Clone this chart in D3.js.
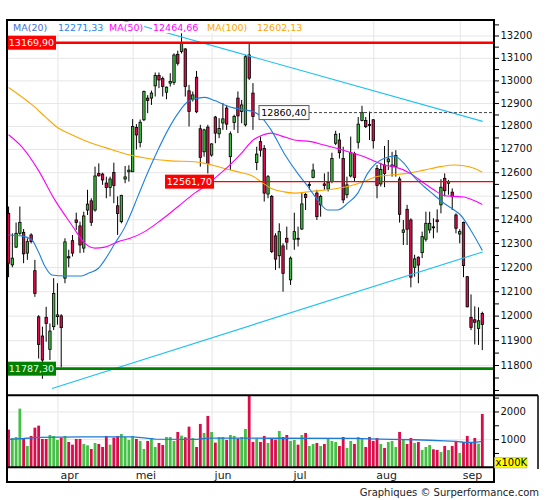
<!DOCTYPE html>
<html><head><meta charset="utf-8">
<script src="https://cdn.jsdelivr.net/npm/d3@7"></script>
<style>
body{margin:0;background:#fff;}
svg{display:block;font-family:"DejaVu Sans",Verdana,sans-serif;}
</style>
</head><body>
<svg id="chart" width="545" height="500"></svg>
<script>
// ---------- data ----------
const openP  = [12427,12211,12285,12343,12347,12260,12336,12187,11997,11919,11995,11865,11957,11998,12001,12156,12245,12312,12399,12374,12281,12441,12480,12441,12597,12594,12556,12537,12601,12459,12392,12573,12604,12604,12795,12730,12829,12924,12924,12978,13024,13010,12950,12990,12993,13118,13131,13142,12956,12919,13016,12790,12690,12797,12676,12841,12768,12815,12880,12669,12817,12924,12865,12807,13115,12946,12644,12734,12704,12509,12499,12332,12249,12290,12322,12149,12318,12322,12361,12507,12545,12580,12513,12463,12552,12530,12562,12727,12741,12661,12506,12586,12683,12731,12826,12826,12808,12829,12618,12552,12633,12647,12626,12626,12573,12347,12444,12399,12201,12243,12262,12318,12357,12370,12399,12463,12576,12555,12517,12420,12340,12389,12162,11995,11985,11950,12011];
const highP  = [12456,12343,12388,12456,12361,12322,12343,12232,12004,11957,12038,11970,12156,12135,12008,12322,12274,12336,12430,12392,12434,12527,12491,12626,12640,12600,12583,12583,12643,12499,12506,12629,12632,12832,12810,12830,12957,12937,12957,13037,13037,13019,12975,13034,13122,13134,13212,13145,12982,12953,13044,12807,12790,12807,12727,12846,12836,12902,12894,12778,12851,12953,12916,13115,13167,12990,12712,12756,12719,12590,12505,12343,12385,12301,12371,12246,12430,12371,12513,12513,12562,12639,12527,12506,12597,12604,12686,12781,12771,12712,12583,12756,12690,12841,12890,12841,12865,12832,12633,12643,12715,12741,12690,12697,12583,12399,12463,12406,12253,12246,12350,12434,12434,12406,12444,12572,12597,12569,12533,12427,12360,12392,12165,12089,12040,12036,12018];
const lowP   = [12160,12201,12281,12336,12218,12232,12301,12079,11828,11747,11896,11822,11943,11965,11792,12135,12201,12246,12357,12260,12262,12420,12374,12434,12583,12548,12491,12499,12470,12336,12385,12555,12562,12604,12700,12709,12823,12858,12894,12931,12968,12931,12919,12975,12982,13068,13122,12931,12800,12909,12858,12626,12669,12597,12669,12727,12749,12785,12785,12611,12785,12771,12814,12800,13004,12785,12611,12669,12477,12491,12260,12190,12197,12100,12274,12128,12274,12288,12357,12441,12527,12576,12399,12413,12527,12520,12555,12719,12661,12470,12491,12580,12562,12704,12822,12793,12741,12704,12491,12541,12538,12611,12583,12583,12388,12294,12294,12118,12162,12135,12239,12308,12343,12322,12346,12427,12499,12506,12441,12343,12301,12160,12036,11943,11885,11883,11862];
const closeP = [12218,12239,12343,12389,12257,12308,12308,12093,11885,11822,11970,11939,12093,12005,11953,12307,12240,12260,12388,12294,12416,12466,12389,12586,12587,12569,12537,12573,12545,12426,12503,12582,12611,12800,12763,12818,12953,12913,12946,13024,13004,12975,12972,12997,13115,13078,13169.9,12975,12865,12938,12864,12666,12785,12640,12724,12771,12791,12833,12810,12768,12843,12846,12894,13107,13012,12843,12680,12697,12513,12583,12267,12235,12350,12176,12306,12239,12350,12318,12467,12494,12550,12611,12413,12499,12545,12558,12661,12766,12686,12484,12548,12686,12580,12810,12860.4,12799,12804,12738,12545,12614,12597,12659,12633,12674,12423,12357,12360,12160,12236,12210,12329,12385,12385,12366,12392,12538,12523,12562,12499,12364,12350,12208,12038,11954,11975,11981,11966];
const volume = [1362,1060,1096,2120,1036,771,1133,1434,1506,1024,1024,1169,1133,988,1072,1133,916,819,1024,1024,843,795,663,880,843,735,1133,819,1072,1133,1205,1096,988,1133,1024,952,663,952,1060,735,880,807,1096,1096,952,1277,1145,1084,1470,1060,735,1567,1241,1856,1277,892,1096,1096,988,1169,1133,1036,1096,1386,2750,916,1036,916,1133,880,1036,1000,1313,1096,1169,952,988,819,1169,1241,771,843,880,771,843,1036,952,916,771,1096,699,952,843,1096,1024,735,1096,952,1060,843,699,916,952,735,1277,1000,843,1060,880,916,627,735,807,651,627,554,771,627,771,952,518,916,1133,916,1060,856,1928];

// moving averages: [candle index, value]
const ma20 = [[0,12336],[3.5,12332],[6.2,12315],[7.9,12267],[9.7,12204],[11.5,12169],[15,12165],[19.4,12165],[21.2,12176],[23.9,12197],[25.6,12232],[28.3,12301],[31,12371],[31.8,12399],[34.4,12499],[37.1,12604],[39.7,12697],[42.4,12785],[45.1,12858],[47.7,12909],[50.4,12924],[52.2,12927],[54.8,12913],[57.5,12894],[60.1,12880],[62.8,12872],[65,12865],[67.1,12843],[69.8,12785],[73.3,12683],[76.9,12597],[79.6,12541],[82.2,12484],[84.9,12441],[87.5,12441],[90.2,12470],[92.9,12513],[95.5,12597],[97.7,12640],[99.8,12661],[102.5,12672],[105.2,12640],[107.8,12583],[110.5,12541],[113.1,12506],[115.8,12470],[118.5,12441],[120.2,12420],[122.9,12357],[126,12271.33]];
const ma50 = [[0,12764],[3.5,12712],[7.9,12611],[12.3,12484],[16.8,12378],[20.3,12301],[23,12281],[25.6,12285],[29.2,12308],[32.3,12322],[36.2,12350],[40.6,12399],[45.1,12456],[49.5,12513],[52.2,12541],[54.8,12576],[58.4,12626],[61.9,12683],[65,12740],[67.1,12759],[69.8,12771],[72.5,12759],[76,12741],[80.4,12734],[84,12719],[87.5,12704],[91.1,12686],[94.6,12669],[97.7,12647],[99.8,12633],[102.5,12626],[106.9,12597],[110.5,12555],[113.1,12527],[115.8,12503],[118.5,12499],[121.1,12496],[123.8,12481],[126,12464.66]];
const ma100 = [[0,12971],[6.2,12895],[9.7,12843],[13.2,12793],[16.8,12764],[22.1,12727],[25.6,12709],[32.3,12676],[37.1,12661],[43.2,12651],[49.5,12647],[52.2,12640],[54.8,12630],[58.4,12614],[61.9,12600],[65,12585],[67.1,12562],[69.8,12534],[73.3,12518],[76,12513],[80.4,12520],[84.9,12527],[90.2,12541],[94.6,12562],[97.7,12583],[101.6,12590],[106,12597],[110.5,12611],[114.9,12626],[118.5,12633],[121.1,12630],[123.8,12619],[126,12602.13]];
const volMA = [[0,1012],[4,1040],[8,1085],[20,1096],[33,1096],[36,1060],[39,1015],[50,1012],[53,1055],[70,1050],[92,1045],[96,1025],[102,1010],[108,995],[112,978],[116,955],[119,935],[121,905],[124,904],[126,940]];

const monthLabels = ["apr","mei","jun","jul","aug","sep"];
const monthStart  = [13,33,54,75,97,120];
const priceTicks  = d3.range(11800, 13201, 100);
const volTicks    = [1000, 2000];
const legendNames  = ["MA(20)","MA(50)","MA(100)"];
const legendValues = [12271.33, 12464.66, 12602.13];
const levelValues  = [13169.90, 12561.70, 12860.40, 11787.30];
// trendlines: [index, price] endpoints
const trendUpper = [[29.9,13272],[126.1,12822]];
const trendLower = [[11.55,11708],[126.1,12265]];

// ---------- layout ----------
const L=7, R=494, T=20, mainB=395.3, volB=467.3, B=482;
const svg = d3.select("#chart");
const x  = d3.scaleLinear().domain([0,126]).range([8.57,482.3]);
const y  = d3.scaleLog().domain([11681,13272]).range([mainB,T]);
const vy = d3.scaleLinear().domain([0,2602]).range([volB,mainB]);
const fmt = v => v.toFixed(2).replace(".", ",");
const GREEN="#3dba3d", RED="#dc0c4a";

const defs = svg.append("defs");
defs.append("clipPath").attr("id","cm").append("rect").attr("x",L).attr("y",T).attr("width",R-L).attr("height",mainB-T);
defs.append("clipPath").attr("id","cv").append("rect").attr("x",L).attr("y",mainB).attr("width",R-L).attr("height",volB-mainB);

// grid
const grid = svg.append("g").attr("stroke","#e6e6e6").attr("stroke-width",1);
grid.selectAll(".hg").data(priceTicks).join("line")
  .attr("x1",L).attr("x2",R).attr("y1",d=>y(d)).attr("y2",d=>y(d));
grid.selectAll(".vg").data(volTicks).join("line")
  .attr("x1",L).attr("x2",R).attr("y1",d=>vy(d)).attr("y2",d=>vy(d));
grid.selectAll(".mg").data(monthStart).join("line")
  .attr("x1",d=>x(d)+0.5).attr("x2",d=>x(d)+0.5).attr("y1",T).attr("y2",volB);

// candles
const idx = d3.range(openP.length);
const cg = svg.append("g").attr("clip-path","url(#cm)");
cg.selectAll(".wick").data(idx).join("line")
  .attr("x1",i=>x(i)).attr("x2",i=>x(i))
  .attr("y1",i=>y(highP[i])).attr("y2",i=>y(lowP[i]))
  .attr("stroke","#000").attr("stroke-width",1);
cg.selectAll(".body").data(idx).join("rect")
  .attr("x",i=>x(i)-1.2).attr("width",2.4)
  .attr("y",i=>y(Math.max(openP[i],closeP[i])))
  .attr("height",i=>Math.max(0.8, y(Math.min(openP[i],closeP[i]))-y(Math.max(openP[i],closeP[i]))))
  .attr("fill",i=>closeP[i]>=openP[i]?GREEN:RED)
  .attr("stroke","#000").attr("stroke-width",0.8);

// moving averages
const lineGen = d3.line().x(d=>x(d[0])).y(d=>y(d[1])).curve(d3.curveMonotoneX);
const mg = svg.append("g").attr("clip-path","url(#cm)").attr("fill","none");
mg.append("path").attr("d",lineGen(ma100)).attr("stroke","#ffa500").attr("stroke-width",1.1);
mg.append("path").attr("d",lineGen(ma50)).attr("stroke","#ff00ff").attr("stroke-width",1.1);
mg.append("path").attr("d",lineGen(ma20)).attr("stroke","#1e80dc").attr("stroke-width",1.1);

// trendlines
const tl = d3.line().x(d=>x(d[0])).y(d=>y(d[1]));
mg.append("path").attr("d",tl(trendUpper)).attr("stroke","#1ec0f5").attr("stroke-width",1.1);
mg.append("path").attr("d",tl(trendLower)).attr("stroke","#1ec0f5").attr("stroke-width",1.1);

// level lines
const lg = svg.append("g");
const levelSpec = [
  {v:levelValues[0], bx:L,   bw:49, fill:"#ff0000", tc:"#fff", lc:"#ff0000", lw:2.6, dash:null, stroke:null},
  {v:levelValues[1], bx:165, bw:49, fill:"#ff0000", tc:"#fff", lc:"#ff0000", lw:1.3, dash:null, stroke:null},
  {v:levelValues[2], bx:259, bw:50, fill:"#fff",    tc:"#000", lc:"#444",    lw:1,   dash:"3,2", stroke:"#555"},
  {v:levelValues[3], bx:L,   bw:49, fill:"#008000", tc:"#f0fff0", lc:"#008000", lw:2.6, dash:null, stroke:null}
];
levelSpec.forEach(s=>{
  const yy = y(s.v);
  lg.append("line").attr("x1",s.bx+s.bw).attr("x2",R).attr("y1",yy).attr("y2",yy)
    .attr("stroke",s.lc).attr("stroke-width",s.lw).attr("stroke-dasharray",s.dash);
  lg.append("rect").attr("x",s.bx).attr("y",yy-7).attr("width",s.bw).attr("height",14)
    .attr("fill",s.fill).attr("stroke",s.stroke).attr("stroke-width",s.stroke?1:0);
  lg.append("text").attr("x",s.bx+s.bw/2).attr("y",yy).attr("dy","0.36em")
    .attr("text-anchor","middle").attr("font-size",9.5).attr("fill",s.tc).text(fmt(s.v));
});

// legend
const legColors = [["#3f6fd6","#1e88f0"],["#ff00ff","#ff00ff"],["#ffa500","#ffa500"]];
const legX = [[13,58],[109,153],[207,257]];
const leg = svg.append("g").attr("font-size",9.5);
legendNames.forEach((n,k)=>{
  [[n,legX[k][0],legColors[k][0]],[fmt(legendValues[k]),legX[k][1],legColors[k][1]]].forEach(([t,xx,c])=>{
    const tx = leg.append("text").attr("x",xx).attr("y",31).attr("fill",c).text(t);
    const bb = tx.node().getBBox();
    leg.insert("rect","text").attr("x",bb.x-1).attr("y",bb.y).attr("width",bb.width+2).attr("height",bb.height).attr("fill","#fff");
  });
});

// volume
const vg = svg.append("g").attr("clip-path","url(#cv)");
vg.selectAll("rect").data(idx).join("rect")
  .attr("x",i=>x(i)-1.4).attr("width",2.8)
  .attr("y",i=>vy(volume[i])).attr("height",i=>volB-vy(volume[i]))
  .attr("fill",i=>closeP[i]>=openP[i]?"#44c044":RED);
vg.append("path").attr("fill","none").attr("stroke","#1e7ad4").attr("stroke-width",1.3)
  .attr("d",d3.line().x(d=>x(d[0])).y(d=>vy(d[1]))(volMA));

// frames
const fr = svg.append("g").attr("stroke","#000").attr("fill","none");
fr.append("rect").attr("x",L).attr("y",T).attr("width",R-L).attr("height",B-T).attr("stroke-width",2);
fr.append("line").attr("x1",L).attr("x2",538).attr("y1",mainB).attr("y2",mainB).attr("stroke-width",2);
fr.append("line").attr("x1",L).attr("x2",R).attr("y1",volB).attr("y2",volB).attr("stroke-width",2);
fr.append("line").attr("x1",538).attr("x2",538).attr("y1",mainB).attr("y2",469).attr("stroke-width",1.5);

// right price axis
const ax = svg.append("g");
const minor = d3.range(11700, 13300, 50).filter(v=>y(v)>=T+1 && y(v)<=mainB-1);
ax.selectAll("line").data(minor).join("line")
  .attr("x1",R).attr("x2",R+5).attr("y1",d=>y(d)).attr("y2",d=>y(d)).attr("stroke","#000");
ax.selectAll("text").data(priceTicks).join("text")
  .attr("x",R+6.5).attr("y",d=>y(d)).attr("dy","0.3em").attr("font-size",10).attr("fill","#111")
  .text(d=>d);

// volume axis
const vax = svg.append("g");
vax.selectAll("line").data([500,1000,1500,2000,2500]).join("line")
  .attr("x1",R).attr("x2",R+5).attr("y1",d=>vy(d)).attr("y2",d=>vy(d)).attr("stroke","#000");
vax.selectAll("text").data(volTicks).join("text")
  .attr("x",R+6.5).attr("y",d=>vy(d)).attr("dy","0.3em").attr("font-size",10).attr("fill","#111").text(d=>d);
vax.append("rect").attr("x",494.5).attr("y",457.5).attr("width",32.5).attr("height",10.5)
  .attr("fill","#ffff00").attr("stroke","#999").attr("stroke-width",0.5);
vax.append("text").attr("x",495.5).attr("y",466.3).attr("font-size",10).attr("fill","#000").text("x100K");

// month labels
svg.append("g").selectAll("text").data(monthStart).join("text")
  .attr("x",d=>x(d)+3).attr("y",478.5).attr("font-size",11).attr("fill","#222")
  .text((d,k)=>monthLabels[k]);

// credit
svg.append("text").attr("x",539).attr("y",496).attr("text-anchor","end")
  .attr("font-size",10).attr("fill","#222").text("Graphiques \u00A9 Surperformance.com");
</script>
</body></html>
